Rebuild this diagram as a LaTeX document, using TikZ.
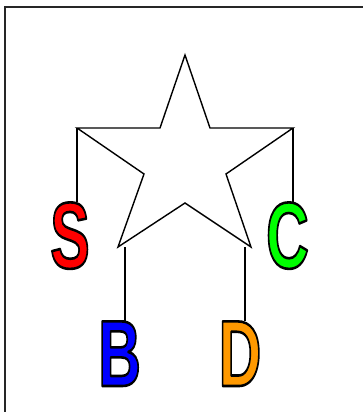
\documentclass[tikz,border=0pt]{standalone}
\usepackage{fontspec}
\usepackage{graphicx}
\setmainfont{Liberation Sans}
\definecolor{lred}{RGB}{255,0,0}
\definecolor{lgreen}{RGB}{0,255,0}
\definecolor{lblue}{RGB}{0,0,255}
\definecolor{lorange}{RGB}{255,153,0}
\newcommand\outlined[1]{\special{pdf:literal direct 0 0 0 RG 2 Tr 2.6 w 1 j}#1\special{pdf:literal direct 0 Tr}}
\tikzset{
  letter/.style={inner sep=0pt, anchor=base, font=\fontsize{94}{94}\selectfont\bfseries},
  starline/.style={line width=1.4pt, line join=miter},
  hang/.style={line width=1.4pt},
  frameline/.style={line width=1.6pt, draw=black!85},
}
\newcommand\olet[4]{%
  \node[letter,text=#3] (#1) at (#2) {\scalebox{0.63}[1]{\outlined{#4}}};
}
\begin{document}
\begin{tikzpicture}[x=1pt,y=-1pt]
\useasboundingbox (0,0) rectangle (362,412);
\draw[frameline] (5,413) -- (5,7) -- (363,7);
% star
\coordinate (top) at (185,55);
\coordinate (itr) at (210,128);
\coordinate (outr) at (293,128);
\coordinate (ir) at (226,174);
\coordinate (br) at (251,247);
\coordinate (ib) at (185,203);
\coordinate (bl) at (118,247);
\coordinate (il) at (144,174);
\coordinate (outl) at (77,128);
\coordinate (itl) at (160,128);
\draw[starline] (top) -- (itr) -- (outr) -- (ir) -- (br) -- (ib) -- (bl) -- (il) -- (outl) -- (itl) -- cycle;
% letters
\olet{S}{70,268}{lred}{S}
\olet{C}{287.5,268}{lgreen}{C}
\olet{B}{119.5,386}{lblue}{B}
\olet{D}{240,386}{lorange}{D}
% hangers
\coordinate (hb) at (125,247);
\coordinate (hd) at (245,247);
\draw[hang] (outl) -- (outl |- S.north);
\draw[hang] (outr) -- (outr |- C.north);
\draw[hang] (hb) -- (hb |- B.north);
\draw[hang] (hd) -- (hd |- D.north);
\end{tikzpicture}
\end{document}
